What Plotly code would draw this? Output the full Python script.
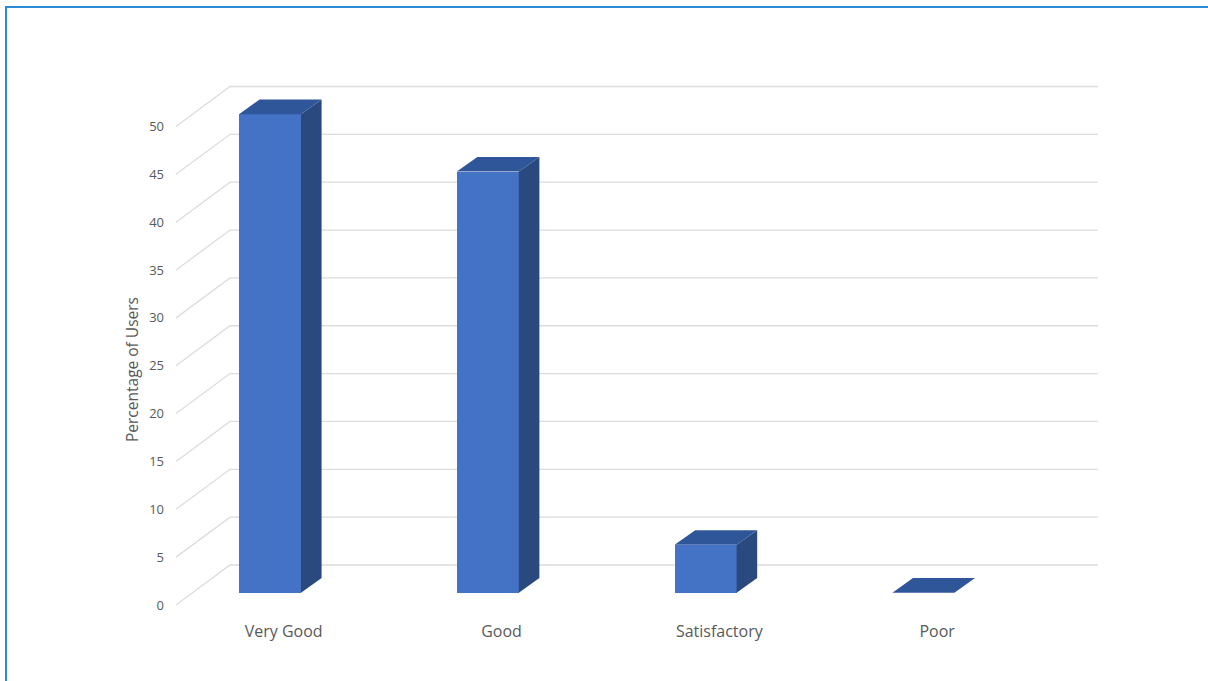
import plotly.graph_objects as go

# ---- data ----
categories = ["Very Good", "Good", "Satisfactory", "Poor"]
values = [50, 44, 5, 0]
y_ticks = [0, 5, 10, 15, 20, 25, 30, 35, 40, 45, 50]
y_title = "Percentage of Users"

# ---- geometry (pixel scale -> data units) ----
W, H = 1208, 681
PL, PR, PT, PB = 176, 1110, 60, 612          # plot area pixels
SX = 217.8                                   # px per category
SY = 9.57                                    # px per value unit
X0 = 283.7                                   # pixel of category 0
Y0 = 605.0                                   # pixel of value 0 (front plane)

xr = [(PL - X0) / SX, (PR - X0) / SX]
yr = [(Y0 - PB) / SY, (Y0 - PT) / SY]

wall_dx = 54 / SX
wall_dy = 40 / SY
wall_right = (1098 - 54 - X0) / SX

bar_front_dx = 16.6 / SX
bar_front_dy = 12.3 / SY
bar_dx = 20.6 / SX
bar_dy = 14.7 / SY
bar_left_off = (239 - 16.6 - X0) / SX       # front-plane left edge relative to category
bar_w = 62 / SX

FRONT = "#4472C4"
TOP = "#30569A"
SIDE = "#2A4A7F"
GRID = "#DCDCDC"
TXT = "#595959"

fig = go.Figure()

# gridlines (below all traces): side diagonals + back wall
shapes = []
for v in y_ticks:
    shapes.append(dict(type="path", xref="x", yref="y", layer="below",
                       path=f"M {xr[0]} {v} L {xr[0] + wall_dx} {v + wall_dy} "
                            f"L {wall_right + wall_dx} {v + wall_dy}",
                       line=dict(color=GRID, width=1.3)))

# bars (front faces)
xl = [i + bar_left_off + bar_front_dx for i in range(len(categories))]
xc = [x + bar_w / 2 for x in xl]
fig.add_trace(go.Bar(x=xc, y=values, base=[bar_front_dy] * len(values), width=bar_w,
                     marker=dict(color=FRONT, line=dict(width=0)),
                     hoverinfo="skip", showlegend=False))

# side and top faces
sx, sy, tx, ty = [], [], [], []
for x, v in zip(xl, values):
    b = bar_front_dy
    t = b + v
    r = x + bar_w
    if v > 0:
        sx += [r, r + bar_dx, r + bar_dx, r, r, None]
        sy += [b, b + bar_dy, t + bar_dy, t, b, None]
    tx += [x, r, r + bar_dx, x + bar_dx, x, None]
    ty += [t, t, t + bar_dy, t + bar_dy, t, None]

fig.add_trace(go.Scatter(x=sx, y=sy, mode="lines", fill="toself", fillcolor=SIDE,
                         line=dict(width=0, color=SIDE), hoverinfo="skip", showlegend=False))
fig.add_trace(go.Scatter(x=tx, y=ty, mode="lines", fill="toself", fillcolor=TOP,
                         line=dict(width=0, color=TOP), hoverinfo="skip", showlegend=False))

def px_x(p):
    return (p - PL) / (PR - PL)

def px_y(p):
    return (PB - p) / (PB - PT)

shapes += [
    dict(type="line", xref="paper", yref="paper", x0=px_x(6), x1=px_x(6),
         y0=px_y(6), y1=px_y(700), line=dict(color="#2B8BD5", width=2)),
    dict(type="line", xref="paper", yref="paper", x0=px_x(5), x1=px_x(1220),
         y0=px_y(7), y1=px_y(7), line=dict(color="#2B8BD5", width=2)),
]

fig.update_layout(
    width=W, height=H,
    margin=dict(l=PL, r=W - PR, t=PT, b=H - PB, pad=0),
    paper_bgcolor="white", plot_bgcolor="white",
    font=dict(family="Open Sans", color=TXT),
    bargap=0,
    xaxis=dict(range=xr, tickmode="array", tickvals=list(range(len(categories))),
               ticktext=categories, showgrid=False, zeroline=False, showline=False,
               ticks="", tickfont=dict(size=16, color=TXT), ticklabelstandoff=8,
               fixedrange=True),
    yaxis=dict(range=yr, tickmode="array", tickvals=y_ticks,
               ticktext=[str(v) for v in y_ticks], showgrid=False, zeroline=False,
               showline=False, ticks="", tickfont=dict(size=13, color=TXT),
               ticklabelstandoff=11, fixedrange=True),
    annotations=[dict(text=y_title, xref="paper", yref="paper",
                      x=px_x(132), y=px_y(370), textangle=-90, showarrow=False,
                      font=dict(size=15.5, color=TXT), xanchor="center", yanchor="middle")],
    shapes=shapes,
)

fig.write_html("out.html")
